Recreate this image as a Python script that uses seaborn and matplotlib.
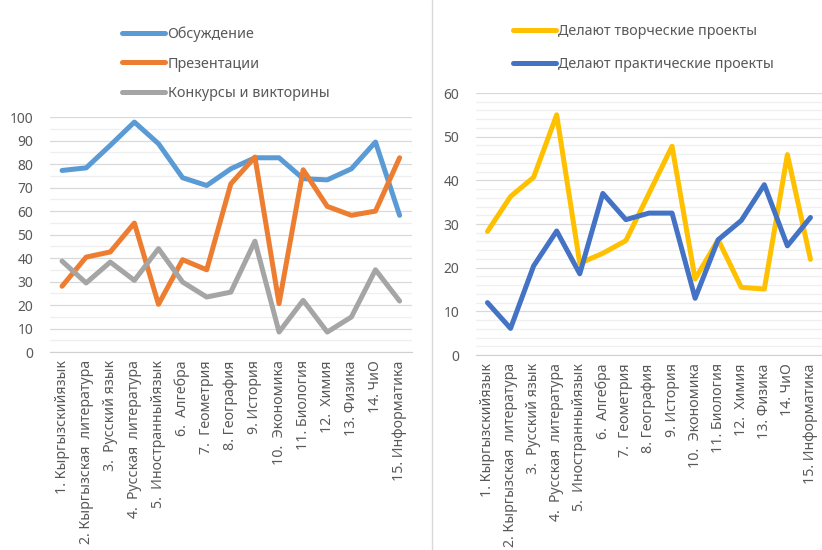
import pandas as pd
import numpy as np
import seaborn as sns
import matplotlib.pyplot as plt
from matplotlib.ticker import MultipleLocator

subjects = [
    "1. Кыргызскийязык", "2. Кыргызская  литература", "3.  Русский язык",
    "4.  Русская  литература", "5.  Иностранныйязык", "6.  Алгебра",
    "7.  Геометрия", "8. География", "9. История", "10.  Экономика",
    "11. Биология", "12.  Химия", "13. Физика", "14. ЧиО", "15. Информатика",
]

discussion = [77.3, 78.4, 88, 97.9, 88.7, 74.2, 70.9, 78, 82.7, 82.7, 73.8, 73.3, 78, 89.4, 58.2]
presentations = [28, 40.4, 42.6, 54.9, 20.3, 39.3, 35, 71.6, 83, 20.6, 77.6, 62, 58.2, 60, 82.7]
contests = [38.7, 29.4, 38.3, 30.5, 44, 29.8, 23.4, 25.5, 47.2, 8.5, 22, 8.5, 14.9, 35, 21.7]

creative = [28.3, 36.3, 40.7, 55, 21, 23.3, 26.2, 37, 47.8, 17.4, 26.4, 15.5, 15.1, 45.9, 21.9]
practical = [12, 6.1, 20.4, 28.4, 18.6, 37, 31, 32.5, 32.5, 13, 26.4, 30.8, 39, 25, 31.5]

left_names = ["Обсуждение", "Презентации", "Конкурсы и викторины"]
right_names = ["Делают творческие проекты", "Делают практические проекты"]

sns.set_style("white")
plt.rcParams["font.family"] = ["Noto Sans", "DejaVu Sans"]
txt = "#595959"

df_left = pd.DataFrame({"subject": subjects * 3,
                        "value": discussion + presentations + contests,
                        "series": np.repeat(left_names, len(subjects))})
df_right = pd.DataFrame({"subject": subjects * 2,
                         "value": creative + practical,
                         "series": np.repeat(right_names, len(subjects))})

fig = plt.figure(figsize=(8.22, 5.5), dpi=100)
ax1 = fig.add_axes([0.0608, 0.36, 0.440, 0.427])
ax2 = fig.add_axes([0.579, 0.3545, 0.421, 0.4764])

sns.lineplot(data=df_left, x="subject", y="value", hue="series", ax=ax1,
             palette=["#5B9BD5", "#ED7D31", "#A5A5A5"], linewidth=3.6, sort=False)
sns.lineplot(data=df_right, x="subject", y="value", hue="series", ax=ax2,
             palette=["#FFC000", "#4472C4"], linewidth=3.6, sort=False)

for ax, top, minor, leg_x, leg_y, spacing in [(ax1, 100, 5, 0.142, 0.962, 1.0),
                                              (ax2, 60, 2, 0.617, 0.966, 1.25)]:
    ax.set_ylim(0, top)
    ax.set_xlim(-0.5, len(subjects) - 0.5)
    ax.yaxis.set_major_locator(MultipleLocator(10))
    ax.yaxis.set_minor_locator(MultipleLocator(minor))
    ax.grid(axis="y", which="major", color="#d9d9d9", linewidth=0.9)
    ax.grid(axis="y", which="minor", color="#efefef", linewidth=0.9)
    ax.set_axisbelow(True)
    for s in ["top", "right", "left"]:
        ax.spines[s].set_visible(False)
    ax.spines["bottom"].set_color("#d0d0d0")
    ax.set_xlabel("")
    ax.set_ylabel("")
    ax.tick_params(axis="y", length=0, labelsize=10, labelcolor=txt, pad=12)
    ax.tick_params(axis="y", which="minor", length=0)
    ax.tick_params(axis="x", length=0, labelsize=10.2, labelcolor=txt, pad=6)
    plt.setp(ax.get_xticklabels(), rotation=90, ha="center", va="top")
    handles, labels = ax.get_legend_handles_labels()
    ax.legend(handles, labels, loc="upper left", bbox_to_anchor=(leg_x, leg_y),
              bbox_transform=fig.transFigure, frameon=False, fontsize=10.3,
              labelcolor=txt, handlelength=3.0, handletextpad=0.15,
              labelspacing=spacing, borderaxespad=0)

fig.add_artist(plt.Line2D([432 / 822, 432 / 822], [0, 1], color="#d9d9d9",
                          linewidth=1, transform=fig.transFigure))

fig.savefig("out.png", dpi=100)
